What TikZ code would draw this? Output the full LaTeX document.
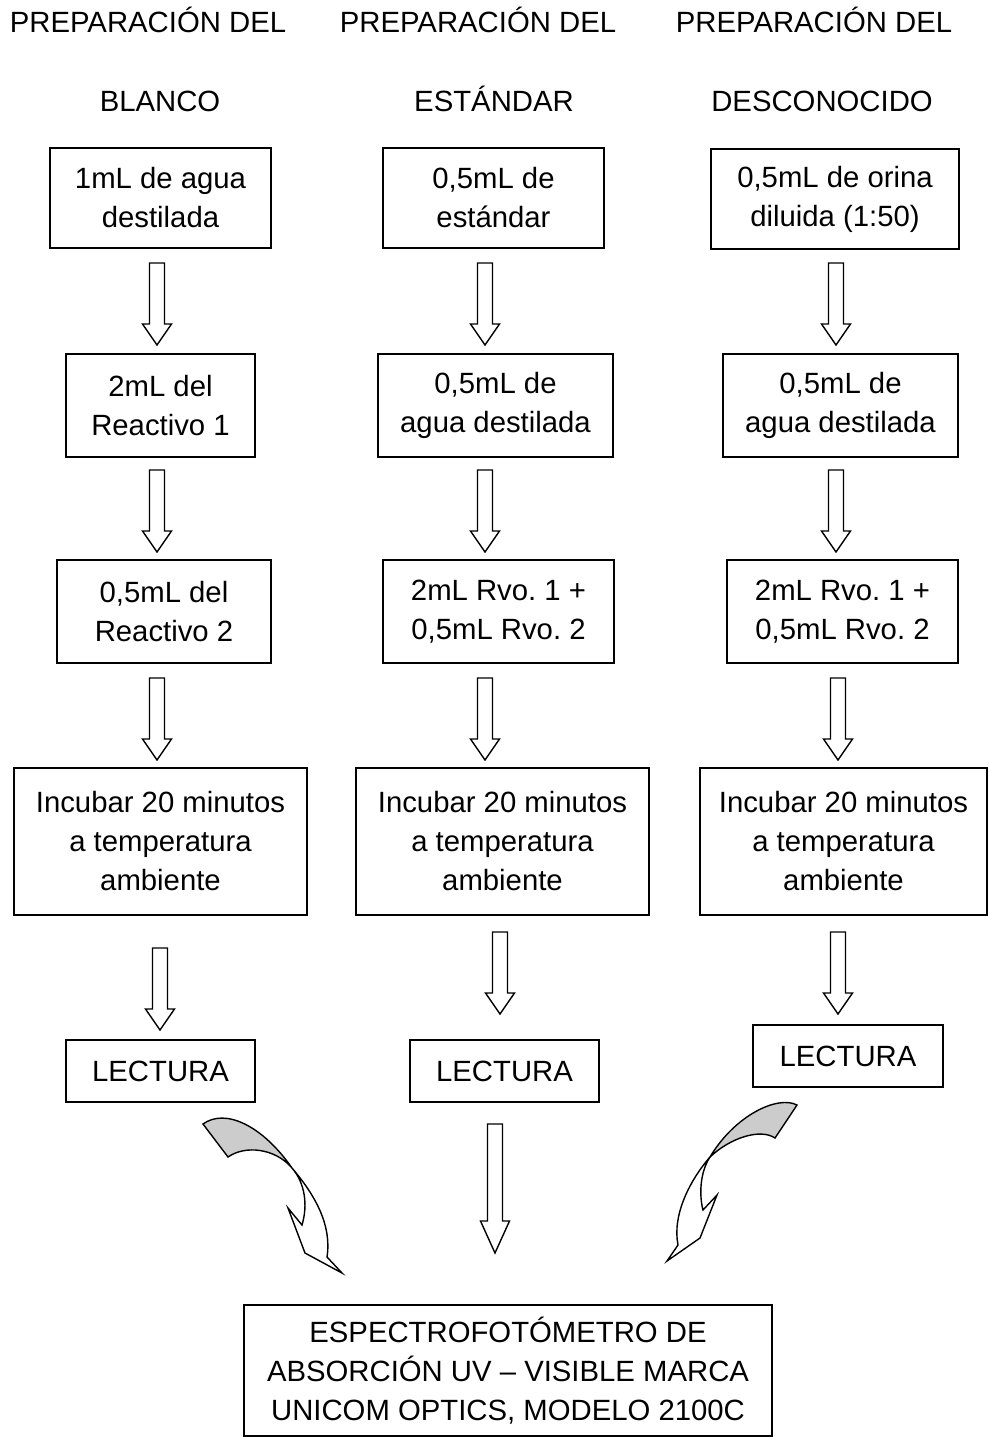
\documentclass[tikz,border=0pt]{standalone}
\usepackage{fontspec}
\setmainfont{Liberation Sans}
\definecolor{ribbon}{RGB}{204,204,204}
\frenchspacing

\tikzset{
    pics/blockarrow/.style 2 args={code={
        \draw[fill=white] (-7.5,0) -- (-7.5,{#1-#2}) -- (-14.5,{#1-#2}) -- (0,#1)
            -- (14.5,{#1-#2}) -- (7.5,{#1-#2}) -- (7.5,0) -- cycle;
    }},
}

\begin{document}
\begin{tikzpicture}[x=1pt,y=-1pt,line width=1.4pt,
    every node/.style={font=\fontsize{29.3}{39}\selectfont},
    stepbox/.style 2 args={draw,align=center,inner sep=0pt,minimum width=#1,minimum height=#2},
    hdr/.style={inner sep=0pt,anchor=base},
]
\useasboundingbox (0,0) rectangle (988,1437);

% headers
\node[hdr] (h1a) at (148,33) {PREPARACIÓN DEL};
\node[hdr] (h1b) at (160,111) {BLANCO};
\node[hdr] (h2a) at (478,33) {PREPARACIÓN DEL};
\node[hdr] (h2b) at (494,111) {ESTÁNDAR};
\node[hdr] (h3a) at (814,33) {PREPARACIÓN DEL};
\node[hdr] (h3b) at (822,111) {DESCONOCIDO};

% blanco
\node[stepbox={221}{100}] (b11) at (160.5,198) {1mL de agua\\destilada};
\node[stepbox={189}{103}] (b12) at (160.5,405.5) {2mL del\\Reactivo 1};
\node[stepbox={214}{103}] (b13) at (164,611.5) {0,5mL del\\Reactivo 2};
\node[stepbox={293}{147}] (b14) at (160.5,841.5) {Incubar 20 minutos\\a temperatura\\ambiente};
\node[stepbox={189}{62}] (b15) at (160.5,1071) {LECTURA};

% estandar
\node[stepbox={221}{100}] (b21) at (493.5,198) {0,5mL de\\estándar};
\node[stepbox={235}{103}] (b22) at (495.5,405.5) {0,5mL de\\agua destilada};
\node[stepbox={231}{103}] (b23) at (498.5,611.5) {2mL Rvo. 1 +\\0,5mL Rvo. 2};
\node[stepbox={293}{147}] (b24) at (502.5,841.5) {Incubar 20 minutos\\a temperatura\\ambiente};
\node[stepbox={189}{62}] (b25) at (504.5,1071) {LECTURA};

% desconocido
\node[stepbox={248}{100}] (b31) at (835,199) {0,5mL de orina\\diluida (1:50)};
\node[stepbox={235}{103}] (b32) at (840.5,405.5) {0,5mL de\\agua destilada};
\node[stepbox={231}{103}] (b33) at (842.5,611.5) {2mL Rvo. 1 +\\0,5mL Rvo. 2};
\node[stepbox={287}{147}] (b34) at (843.5,841.5) {Incubar 20 minutos\\a temperatura\\ambiente};
\node[stepbox={190}{62}] (b35) at (848,1056) {LECTURA};

\node[stepbox={528}{131}] (b4) at (508,1370.5)
    {ESPECTROFOTÓMETRO DE\\ABSORCIÓN UV – VISIBLE MARCA\\UNICOM OPTICS, MODELO 2100C};

% block arrows
\foreach \x/\y [count=\k] in {157/263,157/470,157/678,160/948,
        485/263,485/470,485/678,500/932,
        836/263,836/470,838/678,838/932}
    \pic (arr\k) at (\x,\y) {blockarrow={82}{21}};
\pic (arrlong) at (495,1124) {blockarrow={129}{32}};

% curved arrows
\filldraw[fill=ribbon] (203,1124) .. controls (225,1108) and (262,1125) .. (292,1168)
    .. controls (275,1148) and (245,1145) .. (228,1157) -- cycle;
\draw[fill=white] (292,1168) .. controls (315,1195) and (332,1225) .. (327,1257)
    -- (342,1273) -- (305,1253) -- (288,1208) -- (302,1225)
    .. controls (308,1205) and (305,1183) .. (292,1168) -- cycle;

\filldraw[fill=ribbon] (797,1105) .. controls (778,1095) and (735,1115) .. (710,1157)
    .. controls (730,1138) and (760,1128) .. (775,1138) -- cycle;
\draw[fill=white] (710,1157) .. controls (690,1180) and (672,1215) .. (678,1245)
    -- (667,1261) -- (700,1238) -- (717,1195) -- (703,1210)
    .. controls (699,1195) and (700,1172) .. (710,1157) -- cycle;
\end{tikzpicture}
\end{document}
